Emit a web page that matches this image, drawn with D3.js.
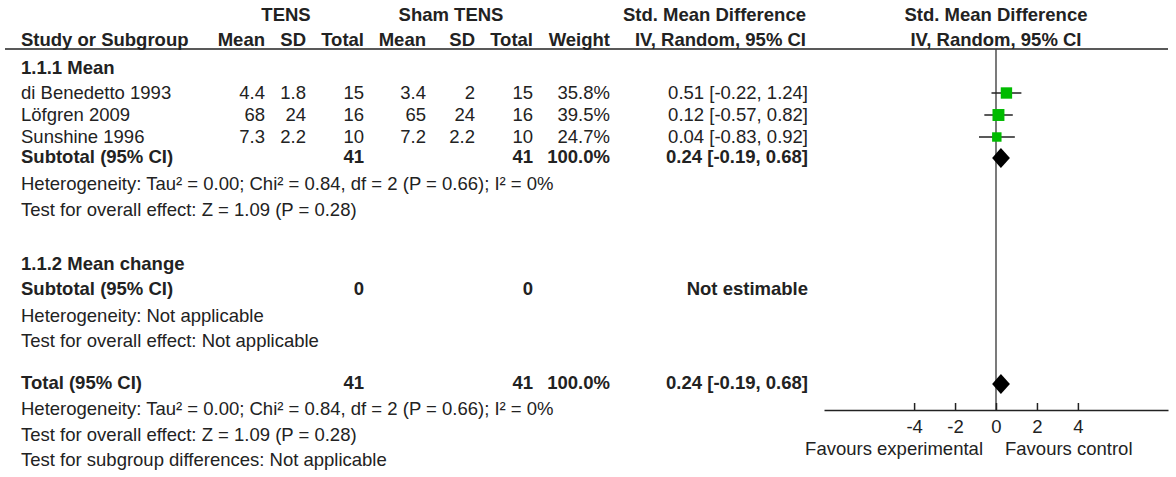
<!DOCTYPE html>
<html>
<head>
<meta charset="utf-8">
<script src="https://cdn.jsdelivr.net/npm/d3@7"></script>
<style>
  html, body { margin: 0; padding: 0; background: #fff; }
  svg text { font-family: "Liberation Sans", Arial, sans-serif; font-size: 18.5px; fill: #222; }
  .b { font-weight: bold; }
</style>
</head>
<body>
<svg id="chart" width="1176" height="477"></svg>
<script>
// ---------- DATA ----------
const studies   = ["di Benedetto 1993", "Löfgren 2009", "Sunshine 1996"];
const tensMean  = [4.4, 68, 7.3];
const tensSD    = [1.8, 24, 2.2];
const tensN     = [15, 16, 10];
const shamMean  = [3.4, 65, 7.2];
const shamSD    = [2, 24, 2.2];
const shamN     = [15, 16, 10];
const weights   = [35.8, 39.5, 24.7];
const smd       = [0.51, 0.12, 0.04];
const ciLow     = [-0.22, -0.57, -0.83];
const ciHigh    = [1.24, 0.82, 0.92];
const subtotal1 = [0.24, -0.19, 0.68];   // estimate, low, high
const totalEff  = [0.24, -0.19, 0.68];
const subtotalN = [41, 41];
const subtotal2N = [0, 0];
const totalN    = [41, 41];
const axisTicks = [-4, -2, 0, 2, 4];
const xDomain   = [-8.4, 8.4];
const hetText   = "Heterogeneity: Tau² = 0.00; Chi² = 0.84, df = 2 (P = 0.66); I² = 0%";
const testText  = "Test for overall effect: Z = 1.09 (P = 0.28)";

// ---------- LAYOUT ----------
const svg = d3.select("#chart");
svg.append("rect").attr("width", 1176).attr("height", 477).attr("fill", "#fff");

const col = { study: 21, tMean: 265, tSD: 306, tN: 364, sMean: 426, sSD: 475, sN: 533, w: 610, ci: 808 };
const x = d3.scaleLinear().domain(xDomain).range([824, 1168]);
const size = d3.scaleSqrt().domain([0, 100]).range([0, 19]);
const axisY = 410;
const lineY = 49;

function txt(xp, y, s, anchor, bold) {
  svg.append("text").attr("x", xp).attr("y", y).attr("text-anchor", anchor || "start")
    .attr("class", bold ? "b" : null).text(s);
}

// headers
txt(286, 21, "TENS", "middle", true);
txt(451, 21, "Sham TENS", "middle", true);
txt(col.ci - 2, 21, "Std. Mean Difference", "end", true);
txt(x(0), 21, "Std. Mean Difference", "middle", true);
txt(col.study, 46, "Study or Subgroup", "start", true);
txt(col.tMean, 46, "Mean", "end", true);
txt(col.tSD, 46, "SD", "end", true);
txt(col.tN, 46, "Total", "end", true);
txt(col.sMean, 46, "Mean", "end", true);
txt(col.sSD, 46, "SD", "end", true);
txt(col.sN, 46, "Total", "end", true);
txt(col.w, 46, "Weight", "end", true);
txt(col.ci - 2, 46, "IV, Random, 95% CI", "end", true);
txt(x(0), 46, "IV, Random, 95% CI", "middle", true);

svg.append("line").attr("x1", 5).attr("x2", 1168).attr("y1", lineY).attr("y2", lineY)
  .attr("stroke", "#222").attr("stroke-width", 1.5);

// zero line
svg.append("line").attr("x1", x(0)).attr("x2", x(0)).attr("y1", lineY).attr("y2", axisY)
  .attr("stroke", "#333").attr("stroke-width", 1.3);

// subgroup 1.1.1
txt(col.study, 74, "1.1.1 Mean", "start", true);
const studyBase = [99, 121, 143];
const fmtCI = (e, l, h) => `${e.toFixed(2)} [${l.toFixed(2)}, ${h.toFixed(2)}]`;
studies.forEach((s, i) => {
  const y = studyBase[i];
  txt(col.study, y, s);
  txt(col.tMean, y, String(tensMean[i]), "end");
  txt(col.tSD, y, String(tensSD[i]), "end");
  txt(col.tN, y, String(tensN[i]), "end");
  txt(col.sMean, y, String(shamMean[i]), "end");
  txt(col.sSD, y, String(shamSD[i]), "end");
  txt(col.sN, y, String(shamN[i]), "end");
  txt(col.w, y, weights[i].toFixed(1) + "%", "end");
  txt(col.ci, y, fmtCI(smd[i], ciLow[i], ciHigh[i]), "end");
  const cy = y - 6;
  svg.append("line").attr("x1", x(ciLow[i])).attr("x2", x(ciHigh[i])).attr("y1", cy).attr("y2", cy)
    .attr("stroke", "#222").attr("stroke-width", 1.5);
  const sz = size(weights[i]);
  svg.append("rect").attr("x", x(smd[i]) - sz / 2).attr("y", cy - sz / 2)
    .attr("width", sz).attr("height", sz).attr("fill", "#00bb00");
});

function diamond(e, cy) {
  const h = 10;
  svg.append("path")
    .attr("d", `M${x(e[1])},${cy} L${x(e[0])},${cy - h} L${x(e[2])},${cy} L${x(e[0])},${cy + h} Z`)
    .attr("fill", "#000");
}

txt(col.study, 163, "Subtotal (95% CI)", "start", true);
txt(col.tN, 163, String(subtotalN[0]), "end", true);
txt(col.sN, 163, String(subtotalN[1]), "end", true);
txt(col.w, 163, "100.0%", "end", true);
txt(col.ci, 163, fmtCI(subtotal1[0], subtotal1[1], subtotal1[2]), "end", true);
diamond(subtotal1, 158);
txt(col.study, 190, hetText);
txt(col.study, 216, testText);

// subgroup 1.1.2
txt(col.study, 270, "1.1.2 Mean change", "start", true);
txt(col.study, 295, "Subtotal (95% CI)", "start", true);
txt(col.tN, 295, String(subtotal2N[0]), "end", true);
txt(col.sN, 295, String(subtotal2N[1]), "end", true);
txt(col.ci, 295, "Not estimable", "end", true);
txt(col.study, 322, "Heterogeneity: Not applicable");
txt(col.study, 347, "Test for overall effect: Not applicable");

// total
txt(col.study, 389, "Total (95% CI)", "start", true);
txt(col.tN, 389, String(totalN[0]), "end", true);
txt(col.sN, 389, String(totalN[1]), "end", true);
txt(col.w, 389, "100.0%", "end", true);
txt(col.ci, 389, fmtCI(totalEff[0], totalEff[1], totalEff[2]), "end", true);
diamond(totalEff, 384);
txt(col.study, 415, hetText);
txt(col.study, 441, testText);
txt(col.study, 466, "Test for subgroup differences: Not applicable");

// axis
const axis = d3.axisBottom(x).tickValues(axisTicks).tickSizeInner(-7).tickSizeOuter(0)
  .tickPadding(10).tickFormat(d => String(d));
const g = svg.append("g").attr("transform", `translate(0,${axisY})`).call(axis);
g.select(".domain").attr("stroke", "#222").attr("stroke-width", 1.5);
g.selectAll(".tick line").attr("stroke", "#222").attr("stroke-width", 1.5);
g.selectAll(".tick text").attr("font-family", null).attr("font-size", null).attr("fill", "#222");

txt(x(0) - 13, 455, "Favours experimental", "end");
txt(x(0) + 9, 455, "Favours control", "start");
</script>
</body>
</html>
